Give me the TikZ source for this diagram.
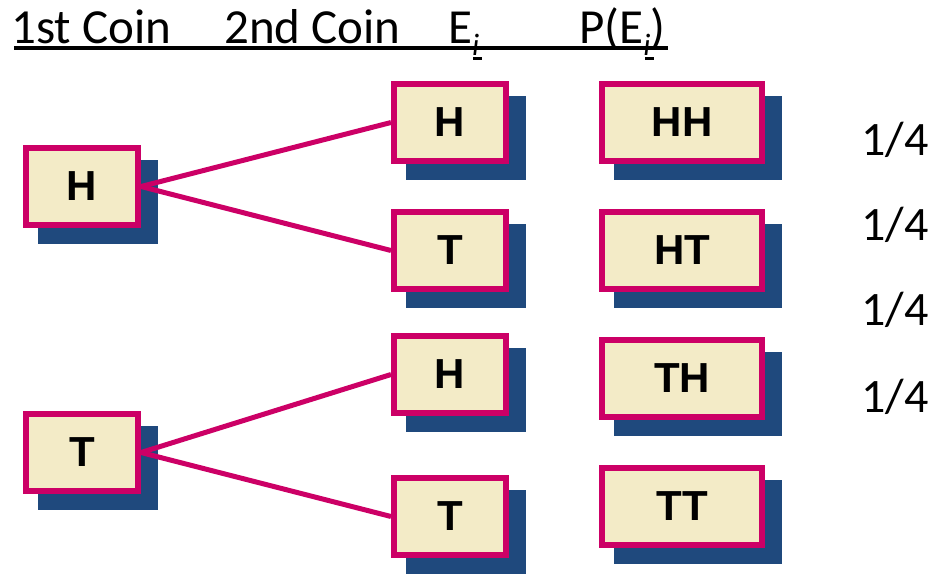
\documentclass[tikz,border=0pt]{standalone}
\usepackage{fontspec}
\setmainfont{Carlito}
\newfontfamily\boxfont{Liberation Sans}
\usetikzlibrary{backgrounds}
\definecolor{boxborder}{RGB}{204,0,102}
\definecolor{boxfill}{RGB}{243,235,199}
\definecolor{shadowblue}{RGB}{31,73,125}
\tikzset{
  coinbox/.style={draw=boxborder, fill=boxfill, line width=6pt, minimum width=112pt,
    minimum height=77pt, inner sep=0pt, text=black,
    font={\boxfont\bfseries\fontsize{42}{42}\selectfont}},
  widebox/.style={coinbox, minimum width=160pt},
  headtext/.style={anchor=base west, inner sep=0pt, font={\fontsize{49}{49}\selectfont}},
  probtext/.style={anchor=base west, inner sep=0pt, font={\fontsize{48}{48}\selectfont}},
  branch/.style={draw=boxborder, line width=5pt},
  boxshadow/.style={fill=shadowblue}
}
\newcommand{\subi}{\raisebox{-12pt}{\fontsize{31}{31}\selectfont\itshape i}}
\begin{document}
\begin{tikzpicture}[x=1pt,y=-1pt]
\useasboundingbox (0,0) rectangle (931,576);
% headers
\node[headtext] (h1) at (11,43) {1st Coin};
\node[headtext] (h2) at (224,43) {2nd Coin};
\node[headtext] (h3) at (448,43) {E\subi};
\node[headtext] (h4) at (579,43) {P(E\subi)};
\coordinate (ulA) at (14,48);
\coordinate (ulB) at (668,48);
\draw[line width=3.5pt] (ulA) -- (ulB);
\coordinate (iA1) at (473,58);
\coordinate (iA2) at (482,58);
\coordinate (iB1) at (645,58);
\coordinate (iB2) at (654,58);
\draw[line width=3pt] (iA1) -- (iA2);
\draw[line width=3pt] (iB1) -- (iB2);
% first coin
\node[coinbox] (A) at (82,186.5) {H};
\node[coinbox] (B) at (82,452.5) {T};
% second coin
\node[coinbox] (C) at (450,122.5) {H};
\node[coinbox] (D) at (450,250.5) {T};
\node[coinbox] (E) at (450,374.5) {H};
\node[coinbox] (F) at (450,516.5) {T};
% outcomes
\node[widebox] (G) at (682,122.5) {HH};
\node[widebox] (Hn) at (682,250.5) {HT};
\node[widebox] (I) at (682,378.5) {TH};
\node[widebox] (J) at (682,506.5) {TT};
% probabilities
\node[probtext] (p1) at (861,155) {1/4};
\node[probtext] (p2) at (861,240) {1/4};
\node[probtext] (p3) at (861,325) {1/4};
\node[probtext] (p4) at (861,412) {1/4};
% shadows
\begin{scope}[on background layer]
\foreach \n in {A,B,C,D,E,F,G,Hn,I,J}{
  \fill[boxshadow] ([shift={(15,15)}]\n.north west) rectangle ([shift={(17,16)}]\n.south east);
}
\end{scope}
% branches
\draw[branch] (A.east) -- (C.west);
\draw[branch] (A.east) -- (D.west);
\draw[branch] (B.east) -- (E.west);
\draw[branch] (B.east) -- (F.west);
\end{tikzpicture}
\end{document}
